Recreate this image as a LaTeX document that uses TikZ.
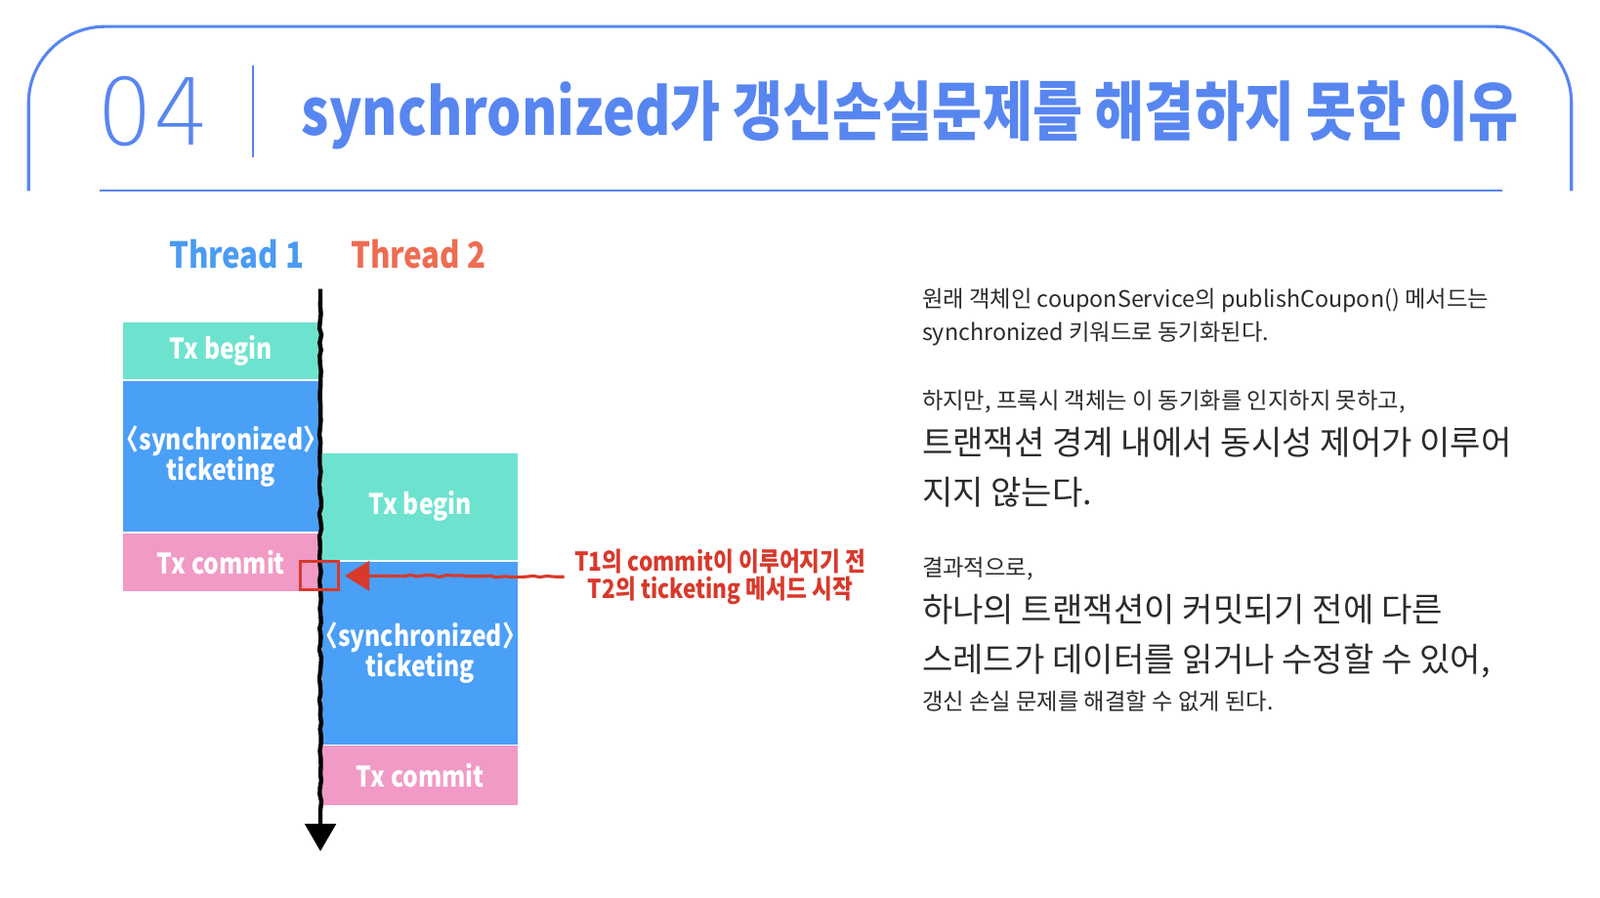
\documentclass[tikz,border=0pt]{standalone}
\usepackage{fontspec}
\setmainfont{Noto Sans CJK KR}
\newfontfamily\krfont{Noto Sans CJK KR}
\newfontfamily\headfont{Noto Sans CJK KR}[FakeStretch=0.84]
\newfontfamily\lblfont{Noto Sans CJK KR}[FakeStretch=0.85]
\newfontfamily\numfont{DejaVu Sans ExtraLight}[FakeStretch=0.95]
\usetikzlibrary{positioning, arrows.meta, decorations.pathmorphing}
\definecolor{frameblue}{RGB}{88,134,240}
\definecolor{thread1}{RGB}{74,155,242}
\definecolor{thread2}{RGB}{238,108,82}
\definecolor{txbegin}{RGB}{109,227,207}
\definecolor{ticket}{RGB}{74,159,246}
\definecolor{commit}{RGB}{241,154,198}
\definecolor{markred}{RGB}{216,57,43}
\definecolor{bodytext}{RGB}{43,43,43}
\begin{document}
\begin{tikzpicture}[x=0.1mm, y=-0.1mm, >={Triangle[width=3mm, length=2.7mm]},
        stage/.style={minimum width=19.2mm, inner sep=0pt, text=white, align=center,
          font=\lblfont\bfseries\fontsize{7.9}{9.7}\selectfont},
        beginbox/.style={stage, fill=txbegin},
        ticketbox/.style={stage, fill=ticket},
        commitbox/.style={stage, fill=commit},
        rough/.style={decorate, decoration={random steps, segment length=2pt,
          amplitude=0.3pt, pre length=1mm, post length=4mm}},
        body/.style={anchor=base west, inner sep=0pt, text=bodytext,
          font=\krfont\fontsize{6.35}{7}\selectfont},
        bigbody/.style={body, font=\krfont\fontsize{9.3}{11}\selectfont}]
        \useasboundingbox (0,0) rectangle (1568,879);
        % ---- 제목 ----
        \draw[frameblue, line width=0.85pt, rounded corners=7.5mm]
          (28,187) -- (28,26) -- (1540,26) -- (1540,187);
        \draw[frameblue, line width=0.55pt] (98,187) -- (1472,187);
        \draw[frameblue, line width=0.55pt] (248,64) -- (248,154);
        \node[anchor=base west, inner sep=0pt, text=frameblue,
          font=\numfont\fontsize{25.8}{26}\selectfont] (num) at (95,142) {04};
        \node[anchor=base west, inner sep=0pt, text=frameblue,
          font=\headfont\bfseries\fontsize{18}{20}\selectfont] (title) at (295,133)
          {synchronized가 갱신손실문제를 해결하지 못한 이유};
        % ---- 스레드 ----
        \node[text=thread1, font=\lblfont\bfseries\fontsize{10}{11}\selectfont] (th1) at (232,249) {Thread 1};
        \node[text=thread2, font=\lblfont\bfseries\fontsize{10}{11}\selectfont] (th2) at (410,249) {Thread 2};
        \coordinate (t0) at (314,283);
        \coordinate (t1) at (314,834);
        % ---- Thread 1 ----
        \node[beginbox, minimum height=5.6mm, anchor=north west] (a1) at (120,315) {Tx begin};
        \node[ticketbox, minimum height=14.8mm, below=0pt of a1] (a2)
          {{\kern-.5em}〈synchronized〉{\kern-.5em}\\[-1.2pt]ticketing};
        \node[commitbox, minimum height=5.7mm, below=0pt of a2] (a3) {Tx commit};
        % ---- Thread 2 ----
        \node[beginbox, minimum height=10.5mm, anchor=north west] (b1) at (315,443) {Tx begin};
        \node[ticketbox, minimum height=17.9mm, below=0pt of b1] (b2)
          {{\kern-.5em}〈synchronized〉{\kern-.5em}\\[-1.2pt]ticketing};
        \node[commitbox, minimum height=5.8mm, below=0pt of b2] (b3) {Tx commit};
        % ---- 시간축 ----
        \draw[line width=1.2pt, rough, ->] (t0) -- (t1);
        % ---- 표시 ----
        \node[draw=markred, line width=0.85pt, minimum width=3.7mm, minimum height=2.8mm,
          inner sep=0pt] (mark) at (313,564) {};
        \coordinate (m0) at (553,565);
        \draw[markred, line width=0.85pt, rough, -{Triangle[width=2.9mm, length=2.4mm]},
          shorten >=0.5mm] (m0) -- (mark.east);
        \node[text=markred, align=center, font=\lblfont\bfseries\fontsize{7.25}{7.6}\selectfont]
          (note) at (706,565) {T1의 commit이 이루어지기 전\\T2의 ticketing 메서드 시작};
        % ---- 설명 ----
        \node[body] (d1) at (903,301) {원래 객체인 couponService의 publishCoupon() 메서드는};
        \node[body] (d2) at (903,334) {synchronized 키워드로 동기화된다.};
        \node[body] (d3) at (903,401) {하지만, 프록시 객체는 이 동기화를 인지하지 못하고,};
        \node[bigbody] (d4) at (903,446) {트랜잭션 경계 내에서 동시성 제어가 이루어};
        \node[bigbody] (d5) at (903,494) {지지 않는다.};
        \node[body] (d6) at (903,564) {결과적으로,};
        \node[bigbody] (d7) at (903,609) {하나의 트랜잭션이 커밋되기 전에 다른};
        \node[bigbody] (d8) at (903,658) {스레드가 데이터를 읽거나 수정할 수 있어,};
        \node[body] (d9) at (903,695) {갱신 손실 문제를 해결할 수 없게 된다.};
\end{tikzpicture}
\end{document}
